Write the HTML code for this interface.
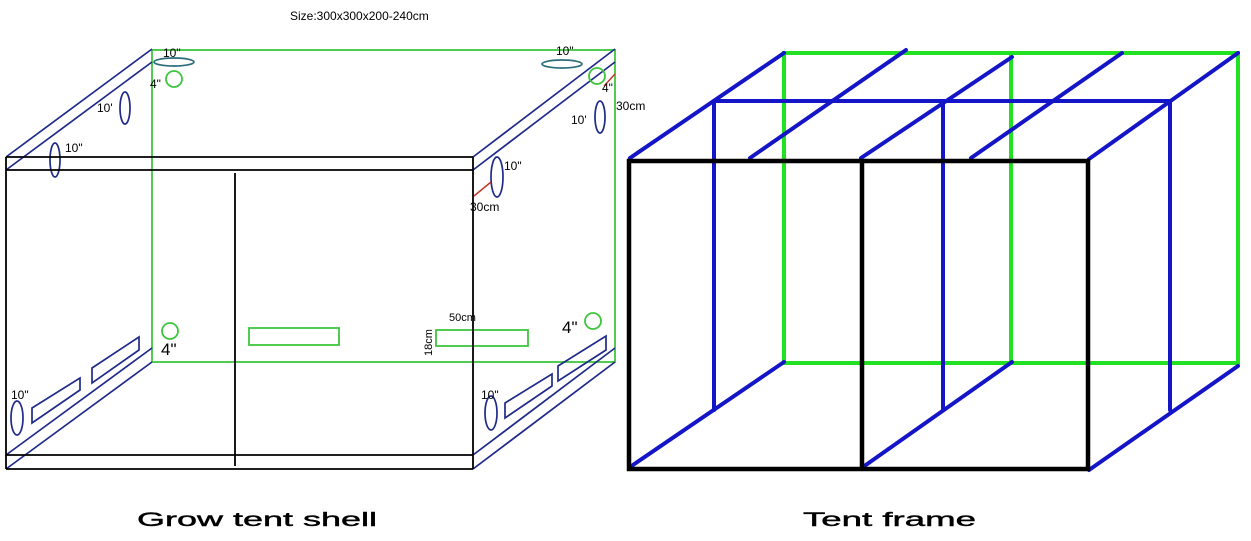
<!DOCTYPE html>
<html><head><meta charset="utf-8"><style>
html,body{margin:0;padding:0;background:#fff;width:1251px;height:541px;overflow:hidden}
svg{display:block}
text{font-family:"Liberation Sans",sans-serif;fill:#000}
</style></head><body>
<svg width="1251" height="541" viewBox="0 0 1251 541" xmlns="http://www.w3.org/2000/svg">
<rect width="1251" height="541" fill="#fff"/>
<!-- LEFT SHELL -->
<g fill="none">
<rect x="152" y="50" width="463" height="312" stroke="#3ec63e" stroke-width="1.8"/>
<g stroke="#1f2a8a" stroke-width="1.7">
<line x1="6" y1="157" x2="152" y2="49"/>
<line x1="6" y1="170" x2="152" y2="62"/>
<line x1="473" y1="157" x2="615" y2="49"/>
<line x1="473" y1="170" x2="615" y2="62"/>
<line x1="6" y1="455" x2="152" y2="348"/>
<line x1="6" y1="469" x2="152" y2="362"/>
<line x1="473" y1="455" x2="615" y2="348"/>
<line x1="473" y1="469" x2="615" y2="362"/>
<ellipse cx="125" cy="108" rx="5" ry="16"/>
<ellipse cx="55" cy="160" rx="5" ry="17"/>
<ellipse cx="600" cy="117" rx="5" ry="16"/>
<ellipse cx="497" cy="177" rx="6" ry="20"/>
<ellipse cx="17" cy="418" rx="6" ry="17"/>
<ellipse cx="491" cy="413" rx="6" ry="17"/>
<polygon points="32,408 80,378 80,390 32,423"/>
<polygon points="92,368 139,337 139,350 92,383"/>
<polygon points="505,403 552,374 552,386 505,418"/>
<polygon points="558,366 606,336 606,350 558,381"/>
</g>
<g stroke="#2a6e7a" stroke-width="1.7">
<ellipse cx="174" cy="62" rx="20" ry="4"/>
<ellipse cx="562" cy="64" rx="20" ry="4"/>
</g>
<g stroke="#3ec63e" stroke-width="1.8">
<circle cx="174" cy="79" r="8"/>
<circle cx="597" cy="76" r="8"/>
<circle cx="170" cy="331" r="8"/>
<circle cx="593" cy="321" r="8"/>
<rect x="249" y="328" width="90" height="17"/>
<rect x="436" y="330" width="92" height="16"/>
</g>
<g stroke="#c0392b" stroke-width="1.5">
<line x1="491" y1="182" x2="474" y2="196"/>
<line x1="604" y1="86" x2="615" y2="74"/>
</g>
<g stroke="#000" stroke-width="1.8">
<line x1="6" y1="157" x2="473" y2="157"/>
<line x1="6" y1="170" x2="473" y2="170"/>
<line x1="6" y1="455" x2="473" y2="455"/>
<line x1="6" y1="469" x2="473" y2="469"/>
<line x1="6" y1="157" x2="6" y2="469"/>
<line x1="473" y1="157" x2="473" y2="469"/>
<line x1="235" y1="173" x2="235" y2="466"/>
</g>
</g>
<g font-size="12">
<text x="290" y="20">Size:300x300x200-240cm</text>
<text x="163" y="57">10"</text>
<text x="150" y="88">4"</text>
<text x="97" y="112">10'</text>
<text x="65" y="152">10"</text>
<text x="556" y="55">10"</text>
<text x="602" y="92">4"</text>
<text x="616" y="110">30cm</text>
<text x="571" y="124">10'</text>
<text x="504" y="170">10"</text>
<text x="470" y="211">30cm</text>
<text x="11" y="399">10"</text>
<text x="481" y="399">10"</text>
<text x="449" y="321" font-size="11">50cm</text>
<text transform="translate(432,356) rotate(-90)" font-size="11">18cm</text>
<text x="161" y="355" font-size="17">4"</text>
<text x="562" y="333" font-size="17">4"</text>
</g>
<!-- RIGHT FRAME -->
<g fill="none" stroke-linecap="round">
<g stroke="#22e022" stroke-width="4">
<rect x="784" y="53" width="454" height="310"/>
<line x1="1011" y1="53" x2="1011" y2="363"/>
</g>
<g stroke="#1515c8" stroke-width="4">
<line x1="714" y1="101" x2="1170" y2="101"/>
<line x1="714" y1="101" x2="714" y2="410"/>
<line x1="943" y1="101" x2="943" y2="410"/>
<line x1="1170" y1="101" x2="1170" y2="410"/>
<line x1="630" y1="158" x2="784" y2="53"/>
<line x1="750" y1="158" x2="906" y2="50"/>
<line x1="861" y1="158" x2="1012" y2="57"/>
<line x1="971" y1="158" x2="1122" y2="53"/>
<line x1="1089" y1="159" x2="1238" y2="53"/>
<line x1="630" y1="467" x2="784" y2="362"/>
<line x1="863" y1="467" x2="1012" y2="362"/>
<line x1="1089" y1="470" x2="1238" y2="366"/>
</g>
<g stroke="#000" stroke-width="4.5" stroke-linecap="butt">
<rect x="629" y="161" width="459" height="308"/>
<line x1="862" y1="161" x2="862" y2="469"/>
</g>
</g>
<text x="137" y="526" font-size="19" textLength="240" lengthAdjust="spacingAndGlyphs" stroke="#000" stroke-width="0.4">Grow tent shell</text>
<text x="803" y="526" font-size="19" textLength="173" lengthAdjust="spacingAndGlyphs" stroke="#000" stroke-width="0.4">Tent frame</text>
</svg>
</body></html>
